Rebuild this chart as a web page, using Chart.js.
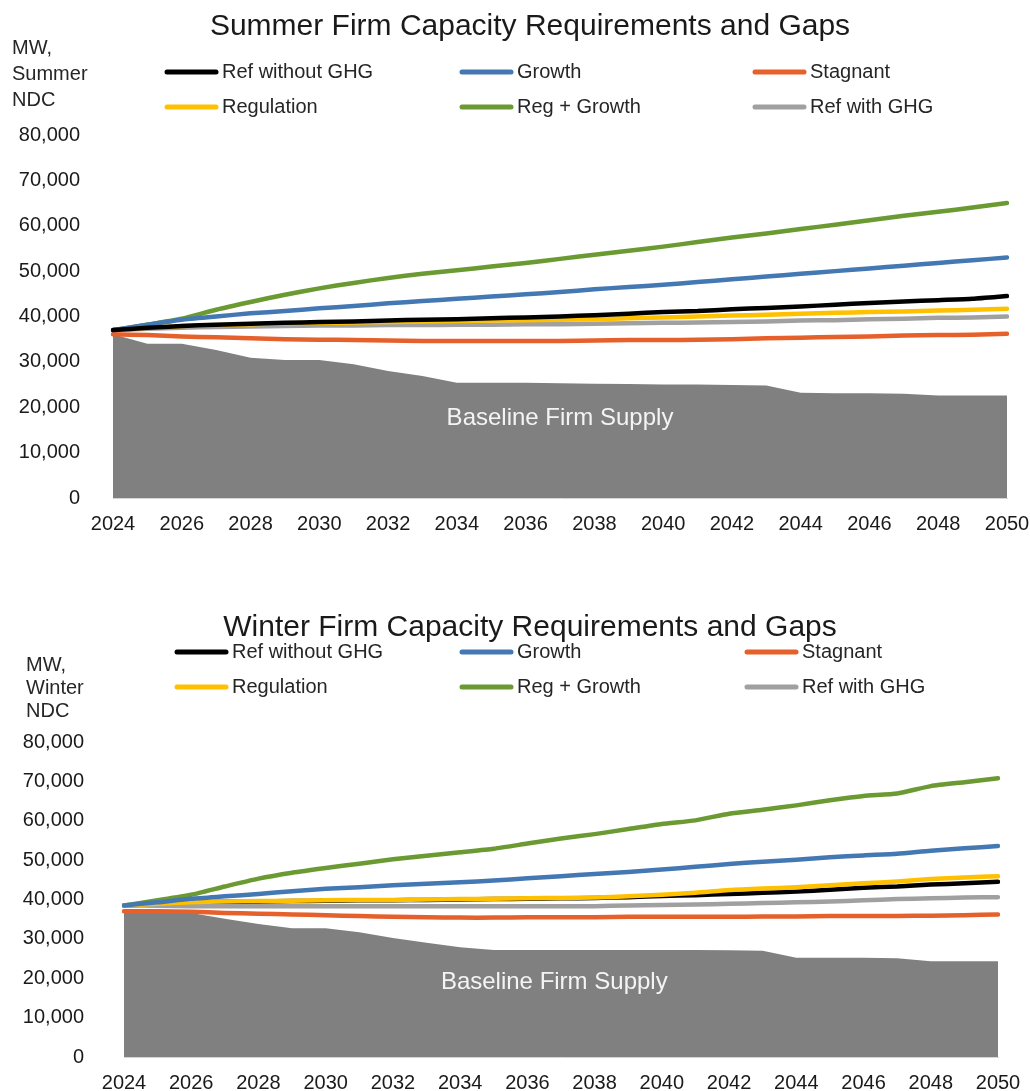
<!DOCTYPE html>
<html>
<head>
<meta charset="utf-8">
<script src="https://cdn.jsdelivr.net/npm/chart.js@4.4.0/dist/chart.umd.min.js"></script>
<style>
body { margin: 0; background: #fff; }
canvas { display: block; }
</style>
</head>
<body>
<canvas id="summerChart" width="1030" height="545"></canvas>
<canvas id="winterChart" width="1030" height="546"></canvas>
<script>
var years = ['2024','2025','2026','2027','2028','2029','2030','2031','2032','2033','2034','2035','2036','2037',
             '2038','2039','2040','2041','2042','2043','2044','2045','2046','2047','2048','2049','2050'];
var yTicks = [0, 10000, 20000, 30000, 40000, 50000, 60000, 70000, 80000];

// summer, MW
var summerRefNoGhg = [37000,37500,37900,38200,38400,38600,38800,38900,39100,39300,39400,39600,39800,40000,40300,40600,41000,41200,41600,41900,42200,42600,43000,43300,43600,43900,44500];
var summerGrowth = [37000,38200,39300,40000,40700,41200,41800,42300,42900,43400,43900,44400,44900,45400,46000,46500,47000,47600,48200,48800,49400,50000,50600,51200,51800,52400,53000];
var summerStagnant = [36100,35900,35600,35400,35200,35000,34900,34800,34700,34600,34600,34600,34600,34600,34700,34800,34800,34900,35000,35200,35300,35500,35600,35800,35900,36000,36200];
var summerRegulation = [37000,37500,37900,38100,38300,38500,38600,38700,38800,38900,39000,39100,39200,39300,39400,39600,39800,40000,40200,40400,40600,40800,41000,41100,41300,41500,41700];
var summerRegGrowth = [37000,38200,39500,41500,43200,44800,46200,47400,48500,49400,50200,51000,51800,52700,53600,54500,55400,56400,57400,58300,59300,60200,61200,62200,63100,64000,65000];
var summerRefGhg = [37000,37300,37500,37700,37800,37900,38000,38000,38100,38100,38200,38200,38300,38300,38400,38500,38600,38700,38800,38900,39100,39200,39400,39500,39700,39800,40000];
var summerSupply = [36100,34000,34000,32600,30900,30400,30400,29500,28000,26900,25400,25400,25400,25300,25200,25100,25000,25000,24900,24800,23200,23100,23100,23000,22600,22600,22600];

// winter, MW
var winterRefNoGhg = [38500,38800,39200,39400,39500,39600,39700,39800,39800,39900,40000,40100,40200,40300,40400,40600,40900,41100,41400,41700,42000,42500,43000,43300,43800,44100,44500];
var winterGrowth = [38500,39300,40200,40800,41400,42100,42700,43100,43600,44000,44400,44800,45400,45900,46500,47000,47600,48300,49000,49600,50100,50700,51200,51600,52400,53000,53600];
var winterStagnant = [37000,37000,36900,36600,36400,36200,36000,35800,35600,35500,35400,35400,35500,35500,35500,35600,35600,35600,35600,35700,35700,35800,35800,35800,35900,36000,36200];
var winterRegulation = [38500,38900,39300,39500,39600,39700,39800,39900,39900,40000,40100,40200,40300,40400,40500,40800,41200,41700,42400,42800,43100,43600,44100,44600,45200,45600,45900];
var winterRegGrowth = [38500,39800,41200,43300,45300,46800,48000,49100,50200,51100,52000,52900,54200,55500,56600,57900,59200,60100,61800,62800,63900,65200,66300,66900,68800,69800,70800];
var winterRefGhg = [38500,38400,38300,38300,38300,38300,38300,38300,38300,38300,38300,38300,38300,38300,38300,38500,38600,38700,38900,39100,39300,39500,39800,40100,40300,40500,40600];
var winterSupply = [36800,36800,36600,35100,33800,32700,32700,31700,30200,29000,27900,27200,27200,27200,27200,27200,27200,27200,27100,27000,25200,25200,25200,25100,24300,24300,24300];

var seriesNames = ['Ref without GHG', 'Growth', 'Stagnant', 'Regulation', 'Reg + Growth', 'Ref with GHG'];
var seriesColors = ['#000000', '#4478b3', '#e5602b', '#ffc000', '#6a9a31', '#a0a0a0'];

Chart.defaults.font.family = '"Liberation Sans", Arial, sans-serif';
Chart.defaults.color = '#222';

// title, legend grid, y-axis caption and the label inside the supply area
var decorPlugin = {
    id: 'decor',
    afterDraw: function(chart, args, opts) {
        var ctx = chart.ctx;
        ctx.save();
        ctx.fillStyle = '#1a1a1a';
        ctx.textBaseline = 'middle';
        ctx.textAlign = 'center';
        ctx.font = '30px "Liberation Sans", Arial, sans-serif';
        ctx.fillText(opts.title, opts.titleX, opts.titleY);

        ctx.fillStyle = '#262626';
        ctx.textAlign = 'left';
        ctx.font = '20px "Liberation Sans", Arial, sans-serif';
        opts.yTitle.forEach(function(t, i) {
            ctx.fillText(t, opts.yTitleX, opts.yTitleY + i * opts.yTitleGap);
        });

        chart.data.datasets.forEach(function(ds, i) {
            if (ds.legendSkip) return;
            var x = opts.legendX[i % 3];
            var y = opts.legendY[Math.floor(i / 3)];
            ctx.strokeStyle = ds.borderColor;
            ctx.lineWidth = 5;
            ctx.lineCap = 'round';
            ctx.beginPath();
            ctx.moveTo(x + 2, y);
            ctx.lineTo(x + 51, y);
            ctx.stroke();
            ctx.fillText(ds.label, x + 57, y);
        });

        var xs = chart.scales.x, ys = chart.scales.y;
        ctx.fillStyle = '#f4f4f4';
        ctx.textAlign = 'center';
        ctx.font = '24px "Liberation Sans", Arial, sans-serif';
        ctx.fillText(opts.areaText, xs.getPixelForValue(opts.areaAt[0]), ys.getPixelForValue(opts.areaAt[1]));
        ctx.restore();
    }
};

function buildDatasets(lines, supply, orders) {
    var sets = lines.map(function(values, i) {
        return {
            label: seriesNames[i],
            data: values,
            borderColor: seriesColors[i],
            borderWidth: 4.5,
            borderCapStyle: 'round',
            borderJoinStyle: 'round',
            pointRadius: 0,
            fill: false,
            tension: 0.2,
            order: orders[i]
        };
    });
    sets.push({
        label: 'Baseline Firm Supply',
        data: supply,
        borderWidth: 0,
        borderColor: 'rgba(0,0,0,0)',
        backgroundColor: '#808080',
        pointRadius: 0,
        fill: 'origin',
        tension: 0,
        order: 2,
        legendSkip: true
    });
    return sets;
}

function makeChart(id, lines, supply, orders, layout, decor) {
    var canvas = document.getElementById(id);
    var ctx = canvas.getContext('2d');
    return new Chart(ctx, {
        type: 'line',
        data: { labels: years, datasets: buildDatasets(lines, supply, orders) },
        plugins: [decorPlugin],
        options: {
            responsive: false,
            animation: false,
            layout: { padding: { top: layout.top, right: layout.right, left: 0, bottom: 0 } },
            plugins: {
                legend: { display: false },
                title: { display: false },
                tooltip: { enabled: false },
                decor: decor
            },
            scales: {
                x: {
                    type: 'category',
                    offset: false,
                    grid: { display: false, drawTicks: false },
                    border: { display: true, color: '#d4d4d4', width: 1 },
                    ticks: {
                        autoSkip: false,
                        maxRotation: 0,
                        padding: 14,
                        color: '#1a1a1a',
                        font: { size: 20 },
                        callback: function(v, i) { return i % 2 === 0 ? years[i] : ''; }
                    },
                    afterFit: function(scale) {
                        scale.height = layout.xHeight;
                        scale.paddingLeft = 0;
                        scale.paddingRight = 0;
                    }
                },
                y: {
                    min: yTicks[0],
                    max: yTicks[yTicks.length - 1],
                    grid: { display: false, drawTicks: false },
                    border: { display: false },
                    afterBuildTicks: function(scale) {
                        scale.ticks = yTicks.map(function(v) { return { value: v }; });
                    },
                    ticks: {
                        padding: layout.yPad,
                        color: '#1a1a1a',
                        font: { size: 20 },
                        callback: function(v) { return v.toLocaleString('en-US'); }
                    },
                    afterFit: function(scale) {
                        scale.width = layout.left;
                        scale.paddingTop = 0;
                        scale.paddingBottom = 0;
                    }
                }
            }
        }
    });
}

makeChart('summerChart',
    [summerRefNoGhg, summerGrowth, summerStagnant, summerRegulation, summerRegGrowth, summerRefGhg],
    summerSupply,
    [0, 0, 0, 0, 0, 0],
    { top: 135, right: 23, left: 113, xHeight: 47, yPad: 33 },
    {
        title: 'Summer Firm Capacity Requirements and Gaps', titleX: 530, titleY: 27,
        yTitle: ['MW,', 'Summer', 'NDC'], yTitleX: 12, yTitleY: 48, yTitleGap: 26,
        legendX: [165, 460, 753], legendY: [72, 107],
        areaText: 'Baseline Firm Supply', areaAt: [13, 17600]
    });

makeChart('winterChart',
    [winterRefNoGhg, winterGrowth, winterStagnant, winterRegulation, winterRegGrowth, winterRefGhg],
    winterSupply,
    [1, 0, 0, 0, 0, 0],
    { top: 197, right: 32, left: 124, xHeight: 34, yPad: 40 },
    {
        title: 'Winter Firm Capacity Requirements and Gaps', titleX: 530, titleY: 83,
        yTitle: ['MW,', 'Winter', 'NDC'], yTitleX: 26, yTitleY: 120, yTitleGap: 23,
        legendX: [175, 460, 745], legendY: [107, 142],
        areaText: 'Baseline Firm Supply', areaAt: [12.8, 19000]
    });
</script>
</body>
</html>
